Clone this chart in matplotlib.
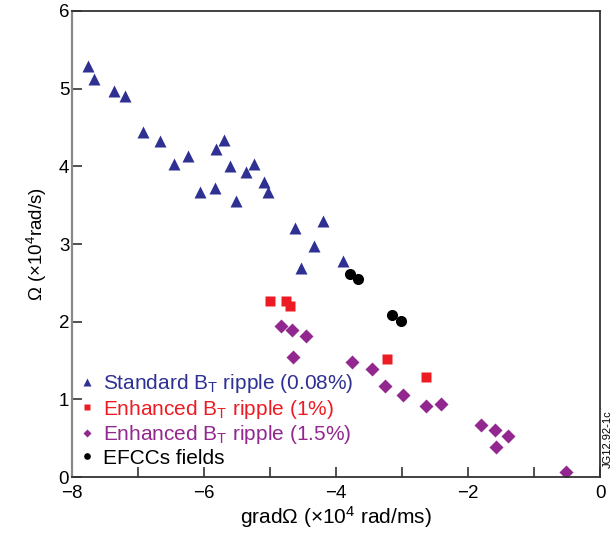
import matplotlib
matplotlib.use("Agg")
import matplotlib.pyplot as plt
from matplotlib.ticker import MultipleLocator

plt.rcParams['font.family'] = ['Liberation Sans', 'DejaVu Sans']
plt.rcParams['mathtext.fontset'] = 'custom'
plt.rcParams['mathtext.rm'] = 'Liberation Sans'
plt.rcParams['mathtext.it'] = 'Liberation Sans'
plt.rcParams['axes.unicode_minus'] = True

# standard B_T ripple (0.08%)
std_x = [-7.76, -7.67, -7.37, -7.19, -6.93, -6.66, -6.46, -6.25, -6.06, -5.84,
         -5.82, -5.70, -5.60, -5.52, -5.37, -5.24, -5.09, -5.03, -4.62, -4.53,
         -4.33, -4.19, -3.89]
std_y = [5.29, 5.12, 4.97, 4.91, 4.44, 4.32, 4.03, 4.13, 3.67, 3.72,
         4.22, 4.34, 4.01, 3.56, 3.93, 4.03, 3.80, 3.67, 3.20, 2.69,
         2.98, 3.30, 2.78]

# enhanced ripple 1%
r1_x = [-5.00, -4.76, -4.69, -3.23, -2.64]
r1_y = [2.27, 2.26, 2.20, 1.52, 1.29]

# enhanced ripple 1.5%
r15_x = [-4.83, -4.66, -4.46, -4.65, -3.76, -3.45, -3.26, -2.98, -2.64, -2.41,
         -1.81, -1.59, -1.39, -1.57, -0.51]
r15_y = [1.94, 1.89, 1.82, 1.55, 1.48, 1.39, 1.17, 1.06, 0.92, 0.94,
         0.67, 0.60, 0.53, 0.39, 0.06]

# EFCC fields
ef_x = [-3.79, -3.66, -3.15, -3.02]
ef_y = [2.61, 2.55, 2.08, 2.01]

labels = ['Standard B$_{\\mathrm{T}}$ ripple (0.08%)',
          'Enhanced B$_{\\mathrm{T}}$ ripple (1%)',
          'Enhanced B$_{\\mathrm{T}}$ ripple (1.5%)',
          'EFCCs fields']
colors = ['#2e3192', '#ed1c24', '#92278f', '#000000']

fig = plt.figure(figsize=(6.13, 5.36), dpi=100)
ax = fig.add_axes([0.1175, 0.110, 0.8613, 0.8695])

ax.plot(std_x, std_y, '^', color=colors[0], ms=9, mec='none', label=labels[0])
ax.plot(r1_x, r1_y, 's', color=colors[1], ms=7.5, mec='none', label=labels[1])
ax.plot(r15_x, r15_y, 'D', color=colors[2], ms=7.2, mec='none', label=labels[2])
ax.plot(ef_x, ef_y, 'o', color=colors[3], ms=8, mec='none', label=labels[3])

ax.set_xlim(-8, 0)
ax.set_ylim(0, 6)
ax.xaxis.set_major_locator(MultipleLocator(2))
ax.xaxis.set_minor_locator(MultipleLocator(1))
ax.yaxis.set_major_locator(MultipleLocator(1))
ax.tick_params(which='both', direction='in', length=7, width=1.2,
               labelsize=13.5, color='#333333')
ax.tick_params(axis='x', pad=6)
ax.tick_params(axis='y', pad=2)

for s in ['top', 'right', 'bottom']:
    ax.spines[s].set_color('#333333')
    ax.spines[s].set_linewidth(1.3)
ax.spines['left'].set_color('#888888')
ax.spines['left'].set_linewidth(1.6)

ax.set_xlabel('gradΩ (×10$^{\\mathrm{4}}$ rad/ms)', fontsize=15, labelpad=1)
ax.set_ylabel('Ω (×10$^{\\mathrm{4}}$rad/s)', fontsize=13.5, labelpad=7)

leg = ax.legend(loc='lower left', frameon=False, fontsize=15, markerscale=0.6,
                handlelength=0.55, handletextpad=0.5, labelspacing=0.12,
                borderaxespad=0.15, borderpad=0.3, bbox_to_anchor=(0.0, 0.0))
for t, c in zip(leg.get_texts(), colors):
    t.set_color(c)

fig.text(0.991, 0.18, 'JG12.92-1c', rotation=90, fontsize=8,
         ha='center', va='center')

fig.savefig('out.png', dpi=100)
